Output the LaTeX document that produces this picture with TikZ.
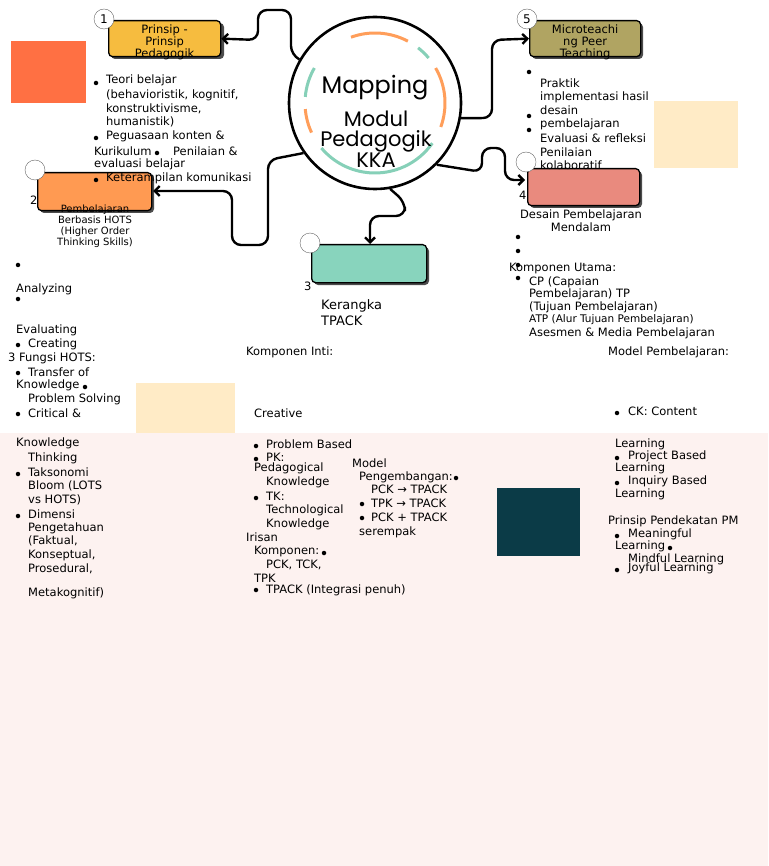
\documentclass[tikz,border=0pt]{standalone}
\usepackage{fontspec}
\setmainfont{DejaVu Sans}
\newfontfamily\titlefont{Poppins}
\usetikzlibrary{arrows.meta}
\definecolor{pinkbg}{HTML}{FDF2F0}
\definecolor{coral}{HTML}{FF7043}
\definecolor{cream}{HTML}{FFEBC6}
\definecolor{deepteal}{HTML}{0B3B47}
\definecolor{boxA}{HTML}{F6BC3F}
\definecolor{boxB}{HTML}{FF9A52}
\definecolor{boxC}{HTML}{88D4BD}
\definecolor{boxD}{HTML}{E98A7E}
\definecolor{boxE}{HTML}{B0A462}
\definecolor{arcO}{HTML}{FF9E5A}
\definecolor{arcT}{HTML}{86D0B8}
\newcounter{tc}
\newcommand\T[3]{\stepcounter{tc}\node[txt] (t\arabic{tc}) at (#1,#2) {#3};}
\newcommand\B[2]{\stepcounter{tc}\node[dot] (t\arabic{tc}) at (#1,#2) {};}

\begin{document}
\begin{tikzpicture}[x=1pt, y=-1pt,
                    txt/.style = {anchor=west, inner sep=0pt, font=\fontsize{11.5}{13}\selectfont},
                    dot/.style = {circle, fill=black, inner sep=0pt, minimum size=4.5pt},
                    box/.style = {draw, line width=1.3pt, rounded corners=4pt, minimum width=112pt,
                                  minimum height=36pt, anchor=north west, inner sep=1pt,
                                  text width=80pt, align=center, font=\fontsize{11.5}{12}\selectfont,
                                  text depth=20pt},
                    shade/.style = {fill=black!70, rounded corners=4pt},
                    badge/.style = {circle, draw=black!60, fill=white, minimum size=20pt, inner sep=0pt,
                                    font=\fontsize{12}{12}\selectfont},
                    ring/.style = {line width=3pt},
                    link/.style = {line width=2.4pt, rounded corners=9pt, -{Straight Barb[length=5pt,width=10pt]}}]

\useasboundingbox (0,0) rectangle (768,866);
\fill[pinkbg] (0,433) rectangle (768,866);
\fill[coral] (11,41) rectangle (86,103);
\fill[cream] (654,101) rectangle (738,168);
\fill[cream] (136,383) rectangle (235,433);
\fill[deepteal] (497,488) rectangle (580,556);

% centre
\node[circle, draw, line width=2.6pt, fill=white, minimum size=172pt] (hub) at (375,103) {};
\draw[ring, arcO] (375,103) ++(-110:70) arc (-110:-62:70);
\draw[ring, arcT] (375,103) ++(-52:70) arc (-52:-40:70);
\draw[ring, arcO] (375,103) ++(-30:70) arc (-30:20:70);
\draw[ring, arcT] (375,103) ++(35:70) arc (35:140:70);
\draw[ring, arcO] (375,103) ++(155:70) arc (155:175:70);
\draw[ring, arcT] (375,103) ++(-175:70) arc (-175:-150:70);
\node[font=\titlefont\fontsize{24}{24}\selectfont] (title) at (375,88) {Mapping};
\node[align=center, font=\titlefont\fontsize{21}{20}\selectfont] (sub) at (376,139) {Modul\\Pedagogik\\KKA};

% boxes
\fill[shade] (111,23) rectangle (224,59);
\node[box, fill=boxA] (b1) at (108,20) {Prinsip -\\Prinsip\\Pedagogik};
\node[badge] (n1) at (104,19) {1};
\fill[shade] (532,23) rectangle (643,59);
\node[box, fill=boxE, minimum width=111pt] (b5) at (529,20) {Microteachi\\ng Peer\\Teaching};
\node[badge] (n5) at (527,19) {5};
\fill[shade] (40,175) rectangle (154,213);
\node[box, fill=boxB, minimum width=114pt, minimum height=38pt] (b2) at (37,172) {};
\node[badge] (n2) at (35,170) {};
\node[txt] (k2) at (30,200) {2};
\node[align=center, inner sep=0pt, font=\fontsize{10}{11}\selectfont] (h2) at (95,226)
  {Pembelajaran\\Berbasis HOTS\\(Higher Order\\Thinking Skills)};
\fill[shade] (530,171) rectangle (642,208);
\node[box, fill=boxD, minimum height=37pt] (b4) at (527,168) {};
\node[badge] (n4) at (526,162) {};
\node[txt] (k4) at (519,195) {4};
\node[align=center, inner sep=0pt, font=\fontsize{11.5}{13}\selectfont] (h4) at (581,221) {Desain Pembelajaran\\Mendalam};
\fill[shade] (314,247) rectangle (429,285);
\node[box, fill=boxC, minimum width=115pt, minimum height=38pt] (b3) at (311,244) {};
\node[badge] (n3) at (310,243) {};
\node[txt] (k3) at (304,286) {3};
\node[align=left, anchor=west, inner sep=0pt, font=\fontsize{13}{16}\selectfont] (h3) at (321,313) {Kerangka\\TPACK};

% links
\draw[link] (hub.150) -- (291,55) -- (291,10) -- (258,10) -- (258,40) -- (b1.east);
\draw[link] (hub.215) -- (268,160) -- (268,245) -- (232,245) -- (232,191) -- (153,191);
\draw[link] (hub.-10) -- (492,118) -- (492,40) -- (b5.west);
\draw[link] (hub.-45) -- (482,172) -- (482,148) -- (505,148) -- (505,180) -- (525,180);
\draw[link] (hub.-80) -- (405,202) -- (405,216) -- (370,216) -- (b3.north -| 370,0);

% principles
\B{96}{83}\T{106}{80}{Teori belajar}
\T{106}{95}{(behavioristik, kognitif,}
\T{106}{109}{konstruktivisme,}
\T{106}{122}{humanistik)}
\B{96}{138}\T{106}{136}{Peguasaan konten \&}
\T{94}{151}{Kurikulum}\B{157}{153}\T{173}{151}{Penilaian \&}
\T{94}{164}{evaluasi belajar}
\B{96}{180}\T{106}{178}{Keterampilan komunikasi}

% HOTS
\B{18}{265}
\T{16}{289}{Analyzing}\B{18}{299}
\T{16}{330}{Evaluating}
\B{18}{345}\T{28}{344}{Creating}
\T{8}{358}{3 Fungsi HOTS:}
\B{18}{373}\T{28}{372}{Transfer of}
\T{16}{385}{Knowledge}\B{85}{387}
\T{28}{399}{Problem Solving}
\B{18}{414}\T{28}{413}{Critical \&}
\T{16}{443}{Knowledge}
\T{28}{458}{Thinking}
\B{18}{474}\T{28}{472}{Taksonomi}
\T{28}{486}{Bloom (LOTS}
\T{28}{500}{vs HOTS)}
\B{18}{516}\T{28}{514}{Dimensi}
\T{28}{528}{Pengetahuan}
\T{28}{541}{(Faktual,}
\T{28}{555}{Konseptual,}
\T{28}{569}{Prosedural,}
\T{28}{593}{Metakognitif)}

% TPACK
\T{246}{352}{Komponen Inti:}
\T{254}{413}{Creative}
\B{256}{446}\T{266}{444}{Problem Based}
\B{256}{459}\T{266}{457}{PK:}
\T{254}{468}{Pedagogical}
\T{266}{482}{Knowledge}
\B{256}{498}\T{266}{496}{TK:}
\T{266}{510}{Technological}
\T{266}{524}{Knowledge}
\T{246}{537}{Irisan}
\T{254}{551}{Komponen:}\B{324}{553}
\T{266}{565}{PCK, TCK,}
\T{254}{578}{TPK}
\B{256}{590}\T{266}{590}{TPACK (Integrasi penuh)}
\T{352}{463}{Model}
\T{359}{477}{Pengembangan:}\B{456}{478}
\T{371}{489}{PCK → TPACK}
\B{362}{504}\T{371}{503}{TPK → TPACK}
\B{362}{518}\T{371}{517}{PCK + TPACK}
\T{359}{532}{serempak}

% microteaching
\B{529}{72}
\T{540}{83}{Praktik}
\T{540}{97}{implementasi hasil}
\T{540}{110}{desain}
\B{529}{116}\T{540}{124}{pembelajaran}
\B{529}{130}\T{540}{138}{Evaluasi \& refleksi}
\T{540}{152}{Penilaian}
\T{540}{165}{kolaboratif}

% deep learning
\B{518}{237}\B{518}{251}\B{518}{265}
\T{509}{269}{Komponen Utama:}
\B{518}{278}\T{529}{282}{CP (Capaian}
\T{529}{294}{Pembelajaran) TP}
\T{529}{307}{(Tujuan Pembelajaran)}
\node[txt, font=\fontsize{10.5}{12}\selectfont] (atp) at (529,320) {ATP (Alur Tujuan Pembelajaran)};
\T{529}{333}{Asesmen \& Media Pembelajaran}
\T{608}{352}{Model Pembelajaran:}
\B{617}{413}\T{628}{411}{CK: Content}
\T{615}{444}{Learning}
\B{617}{458}\T{628}{456}{Project Based}
\T{615}{468}{Learning}
\B{617}{483}\T{628}{481}{Inquiry Based}
\T{615}{494}{Learning}
\T{608}{521}{Prinsip Pendekatan PM}
\B{617}{536}\T{628}{534}{Meaningful}
\T{615}{546}{Learning}\B{670}{548}
\T{628}{559}{Mindful Learning}
\B{617}{570}\T{628}{568}{Joyful Learning}

\end{tikzpicture}
\end{document}
